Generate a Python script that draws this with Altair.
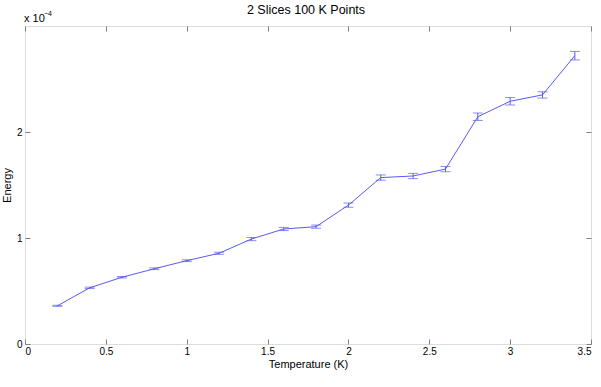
import altair as alt
import pandas as pd

temperature = [0.2, 0.4, 0.6, 0.8, 1.0, 1.2, 1.4, 1.6, 1.8, 2.0, 2.2, 2.4, 2.6, 2.8, 3.0, 3.2, 3.4]
energy_e4 = [0.36, 0.53, 0.63, 0.71, 0.786, 0.856, 0.99, 1.085, 1.107, 1.31, 1.57, 1.585, 1.65, 2.144, 2.29, 2.35, 2.72]
error_e4 = [0.005, 0.007, 0.007, 0.008, 0.008, 0.01, 0.015, 0.015, 0.015, 0.02, 0.025, 0.025, 0.025, 0.035, 0.035, 0.03, 0.04]
x_ticks = [0, 0.5, 1, 1.5, 2, 2.5, 3, 3.5]
y_ticks = [0, 1, 2]

df = pd.DataFrame({"T": temperature, "E": energy_e4, "err": error_e4})
df["lo"] = df["E"] - df["err"]
df["hi"] = df["E"] + df["err"]

COLOR = "#5a5af2"
FONT = "Liberation Sans"
xs = alt.Scale(domain=[0, 3.5], nice=False, zero=False)
ys = alt.Scale(domain=[0, 3], nice=False)

base = alt.Chart(df)

line = base.mark_line(color=COLOR, strokeWidth=1).encode(
    x=alt.X("T:Q", scale=xs, title="Temperature (K)",
            axis=alt.Axis(orient="bottom", values=x_ticks, offset=-5, tickSize=5,
                          tickColor="#808080", domain=False, grid=False,
                          labelPadding=2, titlePadding=2, format="~g",
                          titleFontWeight="normal")),
    y=alt.Y("E:Q", scale=ys, title="Energy",
            axis=alt.Axis(orient="left", values=y_ticks, offset=-5, tickSize=5,
                          tickColor="#808080", domain=False, grid=False,
                          labelPadding=3, titlePadding=4, format="d",
                          titleFontWeight="normal")),
)

rules = base.mark_rule(color=COLOR, strokeWidth=1).encode(
    x=alt.X("T:Q", scale=xs,
            axis=alt.Axis(orient="top", values=x_ticks, offset=-5, tickSize=5,
                          tickColor="#808080", domain=False, grid=False,
                          labels=False, title=None)),
    y=alt.Y("lo:Q", scale=ys,
            axis=alt.Axis(orient="right", values=y_ticks, offset=-5, tickSize=5,
                          tickColor="#808080", domain=False, grid=False,
                          labels=False, title=None)),
    y2="hi:Q",
)

cap_lo = base.mark_tick(color=COLOR, thickness=1, size=10, orient="horizontal").encode(
    x=alt.X("T:Q", scale=xs, axis=None), y=alt.Y("lo:Q", scale=ys, axis=None))
cap_hi = base.mark_tick(color=COLOR, thickness=1, size=10, orient="horizontal").encode(
    x=alt.X("T:Q", scale=xs, axis=None), y=alt.Y("hi:Q", scale=ys, axis=None))

title = alt.Chart(pd.DataFrame({"t": ["2 Slices 100 K Points"]})).mark_text(
    align="center", baseline="alphabetic", font=FONT, fontSize=12.5, color="black"
).encode(text="t:N", x=alt.value(281), y=alt.value(-12))
mult = alt.Chart(pd.DataFrame({"t": ["x 10"]})).mark_text(
    align="left", baseline="alphabetic", font=FONT, fontSize=11, color="black"
).encode(text="t:N", x=alt.value(-1), y=alt.value(-4))
sup = alt.Chart(pd.DataFrame({"t": ["\u22124"]})).mark_text(
    align="left", baseline="alphabetic", font=FONT, fontSize=7, color="black"
).encode(text="t:N", x=alt.value(19), y=alt.value(-10))

chart = alt.layer(line, rules, cap_lo, cap_hi, title, mult, sup).resolve_axis(
    x="independent", y="independent"
).properties(
    width=566, height=318,
    autosize=alt.AutoSizeParams(type="none"),
    padding={"left": 25, "top": 26, "right": 10, "bottom": 43},
).configure_view(stroke="#808080", strokeWidth=1).configure_axis(
    labelFont=FONT, labelFontSize=11, labelColor="black",
    titleFont=FONT, titleFontSize=11, titleFontWeight="normal", titleColor="black",
).configure(background="white")

chart.save("out.html", embed_options={"renderer": "svg", "actions": False})
